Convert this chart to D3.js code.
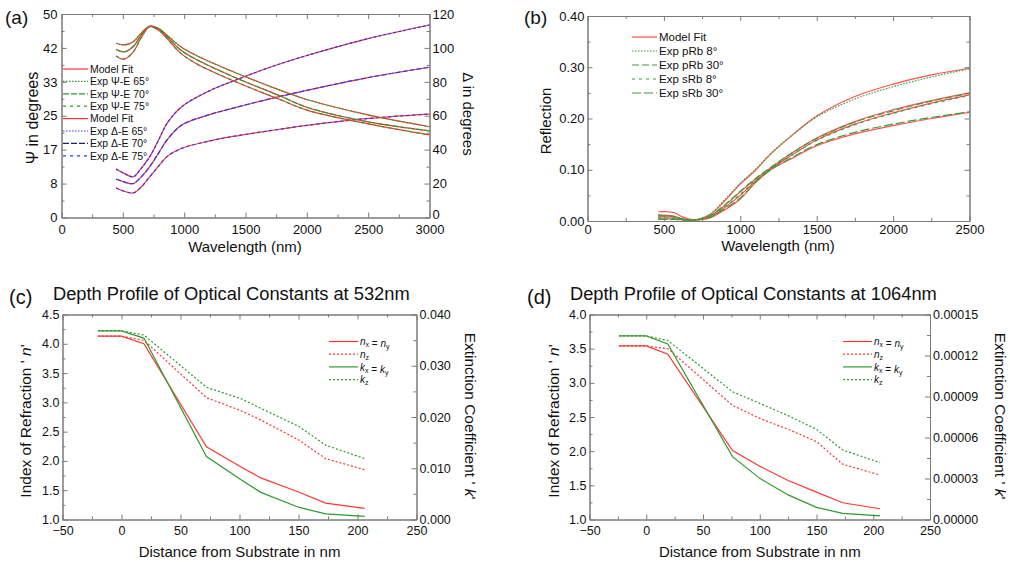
<!DOCTYPE html>
<html><head><meta charset="utf-8">
<title>Optical constants</title>
<script src="https://d3js.org/d3.v7.min.js"></script>
<style>
  body { margin: 0; background: #fff; }
  svg text { font-family: "Liberation Sans", Arial, sans-serif; fill: #111; }
</style>
</head>
<body>
<svg id="chart" width="1010" height="562"></svg>
<script>

// ---------- (a) ellipsometry Psi / Delta ----------
let wlPsi = [445, 510, 585, 650, 720, 800, 860, 966, 1100, 1400, 1780, 2000, 2500, 3000];
let psi65 = [42.8, 42.4, 43.2, 45.3, 47.0, 46.3, 44.8, 42.1, 39.8, 35.8, 31.3, 29.0, 25.2, 22.3];
let psi70 = [41.3, 40.7, 42.0, 44.8, 47.0, 46.1, 44.4, 41.3, 38.8, 34.6, 29.9, 27.1, 23.5, 21.3];
let psi75 = [39.7, 38.9, 40.7, 44.2, 46.9, 45.8, 44.0, 40.5, 37.8, 33.6, 29.0, 26.4, 23.0, 20.3];

let wlDel = [445, 510, 585, 650, 720, 800, 860, 980, 1200, 1400, 1700, 2000, 2500, 3000];
let del65 = [28.6, 26.0, 24.0, 29.0, 35.9, 47.0, 55.5, 65.3, 74.5, 80.5, 88.6, 95.5, 105.5, 113.5];
let del70 = [22.7, 21.0, 20.0, 24.0, 30.0, 39.0, 45.7, 54.5, 60.5, 64.5, 70.0, 75.0, 82.5, 88.6];
let del75 = [17.4, 15.5, 14.5, 18.0, 24.1, 31.0, 35.9, 40.8, 45.0, 47.8, 51.2, 54.3, 58.4, 61.0];

let psiTicks = [0, 50/6, 100/6, 25, 200/6, 250/6, 50];
let psiTickLabels = ["0", "8", "17", "25", "33", "42", "50"];

// ---------- (b) reflection ----------
let wlR = [463, 520, 570, 620, 700, 800, 900, 1000, 1100, 1200, 1350, 1500, 1750, 2000, 2250, 2500];
let fitR1 = [0.012, 0.011, 0.009, 0.004, 0.002, 0.012, 0.040, 0.072, 0.099, 0.131, 0.170, 0.205, 0.243, 0.267, 0.285, 0.298];
let fitR2 = [0.018, 0.018, 0.016, 0.008, 0.002, 0.009, 0.031, 0.057, 0.082, 0.104, 0.135, 0.162, 0.194, 0.217, 0.235, 0.250];
let fitR3 = [0.008, 0.008, 0.007, 0.003, 0.002, 0.007, 0.027, 0.050, 0.078, 0.102, 0.131, 0.158, 0.189, 0.211, 0.230, 0.246];
let fitR4 = [0.004, 0.004, 0.004, 0.002, 0.002, 0.006, 0.022, 0.043, 0.075, 0.100, 0.124, 0.147, 0.170, 0.186, 0.200, 0.212];
let expR1 = [0.011, 0.010, 0.008, 0.003, 0.002, 0.013, 0.042, 0.074, 0.101, 0.132, 0.170, 0.203, 0.238, 0.262, 0.281, 0.297];
let expR2 = [0.010, 0.010, 0.009, 0.004, 0.002, 0.010, 0.032, 0.058, 0.083, 0.105, 0.135, 0.161, 0.193, 0.215, 0.234, 0.249];
let expR3 = [0.006, 0.006, 0.005, 0.003, 0.002, 0.008, 0.028, 0.052, 0.079, 0.102, 0.131, 0.157, 0.188, 0.210, 0.229, 0.245];
let expR4 = [0.003, 0.003, 0.003, 0.002, 0.002, 0.007, 0.024, 0.045, 0.076, 0.100, 0.126, 0.149, 0.173, 0.189, 0.202, 0.213];

// ---------- (c) depth profile at 532nm ----------
let depthC = [-20, 0, 19, 72, 101, 118, 150, 173, 206];
let nxyC = [4.13, 4.13, 4.00, 2.24, 1.90, 1.71, 1.47, 1.28, 1.19];
let nzC  = [4.13, 4.13, 4.06, 3.08, 2.86, 2.70, 2.36, 2.04, 1.85];
let kxyC = [0.0368, 0.0368, 0.0354, 0.0123, 0.0078, 0.0053, 0.0024, 0.0011, 0.0006];
let kzC  = [0.0368, 0.0368, 0.0360, 0.0258, 0.0236, 0.0217, 0.0182, 0.0145, 0.0119];

// ---------- (d) depth profile at 1064nm ----------
let depthD = [-24, 0, 19, 76, 100, 125, 150, 173, 206];
let nxyD = [3.54, 3.54, 3.42, 2.01, 1.78, 1.57, 1.40, 1.245, 1.157];
let nzD  = [3.54, 3.54, 3.50, 2.67, 2.48, 2.32, 2.14, 1.81, 1.65];
let kxyD = [0.0001343, 0.0001343, 0.0001284, 0.0000460, 0.0000301, 0.0000180, 0.0000089, 0.0000045, 0.0000026];
let kzD  = [0.0001343, 0.0001343, 0.0001310, 0.0000935, 0.0000850, 0.0000760, 0.0000660, 0.0000509, 0.0000416];


let svg = d3.select("#chart");
const RED = "#ff3535", GREEN = "#2f9a2f", BLUE = "#3535ee", NAVY = "#1c1c70";

// one axis = minor ticks + major ticks (Origin style, ticks pointing in)
function axis(g, gen, scale, tx, ty, major, minor, fmt, pad, fs) {
  g.append("g").attr("transform", `translate(${tx},${ty})`).attr("color", "#7a7a7a")
    .call(gen(scale).tickValues(minor).tickSize(-3).tickSizeOuter(0).tickFormat(""));
  let a = g.append("g").attr("transform", `translate(${tx},${ty})`).attr("color", "#7a7a7a")
    .call(gen(scale).tickValues(major).tickSize(-5).tickSizeOuter(0).tickPadding(pad || 4).tickFormat(fmt || ""));
  a.selectAll("text").attr("font-size", fs || 13).attr("fill", "#111").attr("font-family", null);
  return a;
}

function frame(p) {
  let g = svg.append("g");
  let x = d3.scaleLinear().domain(p.xDom).range([p.left, p.right]);
  let y = d3.scaleLinear().domain(p.yDom).range([p.bottom, p.top]);
  let y2 = d3.scaleLinear().domain(p.y2Dom || p.yDom).range([p.bottom, p.top]);
  axis(g, d3.axisBottom, x, 0, p.bottom, p.xMajor, p.xMinor, d3.format("d"), p.xPad || 4, p.fs);
  axis(g, d3.axisTop, x, 0, p.top, p.xMajor, p.xMinor, null);
  axis(g, d3.axisLeft, y, p.left, 0, p.yMajor, p.yMinor, p.yFmt, p.yPad, p.fs);
  let r = axis(g, d3.axisRight, y2, p.right, 0, p.y2Major || p.yMajor, p.y2Minor || p.yMinor, p.y2Fmt || null, 3, p.fs);
  return { g: g, x: x, y: y, y2: y2, right: r };
}

function plot(g, xs, ys, sx, sy, color, dash, curve, w) {
  let line = d3.line().x((d, i) => sx(xs[i])).y(d => sy(d)).curve(curve || d3.curveLinear);
  g.append("path").datum(ys).attr("d", line)
    .attr("fill", "none").attr("stroke", color).attr("stroke-width", w || 1.2)
    .attr("stroke-dasharray", dash || null);
}

function legend(g, x0, y0, step, len, fs, items) {
  items.forEach((it, i) => {
    let yy = y0 + i * step;
    g.append("line").attr("x1", x0).attr("x2", x0 + len).attr("y1", yy).attr("y2", yy)
      .attr("stroke", it.color).attr("stroke-width", 1.2).attr("stroke-dasharray", it.dash || null);
    let t = g.append("text").attr("x", x0 + len + 2).attr("y", yy + fs * 0.36).attr("font-size", fs);
    if (typeof it.label === "string") t.text(it.label);
    else it.label(t, fs);
  });
}

function sub(t, fs, base, s) {
  t.append("tspan").attr("font-style", "italic").text(base);
  t.append("tspan").attr("font-size", fs * 0.7).attr("dy", 2).text(s);
  t.append("tspan").attr("dy", -2).text("");
}

function label(txt, x, y, fs, rot, anchor) {
  let t = svg.append("text").attr("font-size", fs).attr("text-anchor", anchor || "middle")
    .attr("transform", `translate(${x},${y}) rotate(${rot || 0})`);
  if (typeof txt === "string") t.text(txt); else txt(t);
  return t;
}

// ===== panel (a) =====
let A = frame({
  left: 61.5, right: 429.5, top: 14, bottom: 217.5, xPad: 7,
  xDom: [0, 3000], xMajor: d3.range(0, 3001, 500), xMinor: d3.range(250, 3000, 500),
  yDom: [0, 50], yMajor: psiTicks, yMinor: psiTicks.slice(1).map(v => v - 25/6),
  yFmt: (d, i) => psiTickLabels[i],
  y2Dom: [0, 120], y2Major: d3.range(0, 121, 20), y2Minor: d3.range(10, 120, 20), y2Fmt: d3.format("d")
});
// lift the right-hand "0" a little so it clears the "3000" below it
A.right.selectAll("text").filter(d => d === 0).attr("y", -3);
let curve = d3.curveCatmullRom.alpha(0.5);
[del65, del70, del75].forEach((d, i) => {
  plot(A.g, wlDel, d, A.x, A.y2, RED, null, curve);
  plot(A.g, wlDel, d, A.x, A.y2, BLUE, ["3,2", "5,2", "3,3"][i], curve);
});
[psi65, psi70, psi75].forEach((d, i) => {
  plot(A.g, wlPsi, d, A.x, A.y, RED, null, curve);
  plot(A.g, wlPsi, d, A.x, A.y, GREEN, ["1.5,1.5", "6,2", "3,4"][i], curve);
});
legend(A.g, 63, 69, 12.4, 25, 10.5, [
  { color: RED, label: "Model Fit" },
  { color: GREEN, dash: "1.5,1.5", label: "Exp \u03A8-E 65\u00B0" },
  { color: GREEN, dash: "6,2", label: "Exp \u03A8-E 70\u00B0" },
  { color: GREEN, dash: "3,4", label: "Exp \u03A8-E 75\u00B0" },
  { color: RED, label: "Model Fit" },
  { color: BLUE, dash: "1.5,1.5", label: "Exp \u0394-E 65\u00B0" },
  { color: NAVY, dash: "6,2", label: "Exp \u0394-E 70\u00B0" },
  { color: BLUE, dash: "3,4", label: "Exp \u0394-E 75\u00B0" }
]);
label("(a)", 5, 24, 19, 0, "start");
label("\u03A8 in degrees", 38, 118, 16, -90);
label("Wavelength (nm)", 245, 252, 15);
label("\u0394 in degrees", 463, 114, 15, 90);

// ===== panel (b) =====
let B = frame({
  left: 587.5, right: 969.5, top: 16, bottom: 221,
  xDom: [0, 2500], xMajor: d3.range(0, 2501, 500), xMinor: d3.range(250, 2500, 500),
  yDom: [0, 0.4], yMajor: [0, 0.1, 0.2, 0.3, 0.4], yMinor: [0.05, 0.15, 0.25, 0.35],
  yFmt: d3.format(".2f"), yPad: 3
});
[fitR1, fitR2, fitR3, fitR4].forEach(d => plot(B.g, wlR, d, B.x, B.y, "#ff5050", null, curve));
[expR1, expR2, expR3, expR4].forEach((d, i) =>
  plot(B.g, wlR, d, B.x, B.y, "#3c9c3c", ["1.5,1.5", "7,3", "3,4", "9,3"][i], curve));
legend(B.g, 632, 37, 14, 25, 11.5, [
  { color: "#ff5050", label: "Model Fit" },
  { color: "#3c9c3c", dash: "1.5,1.5", label: "Exp pRb 8\u00B0" },
  { color: "#3c9c3c", dash: "7,3", label: "Exp pRb 30\u00B0" },
  { color: "#3c9c3c", dash: "3,4", label: "Exp sRb 8\u00B0" },
  { color: "#3c9c3c", dash: "9,3", label: "Exp sRb 30\u00B0" }
]);
label("(b)", 524, 24, 19, 0, "start");
label("Reflection", 551, 121, 15, -90);
label("Wavelength (nm)", 778, 251, 15);

// ===== panels (c) and (d) =====
function depthPanel(p, depth, nxy, nz, kxy, kz, tag, tagX, title, titleX, lx, rx, legX) {
  let P = frame(p);
  plot(P.g, depth, nz, P.x, P.y, RED, "2,2");
  plot(P.g, depth, kz, P.x, P.y2, GREEN, "2,2");
  plot(P.g, depth, nxy, P.x, P.y, RED, null);
  plot(P.g, depth, kxy, P.x, P.y2, GREEN, null);
  legend(P.g, legX, 341.5, 12.7, 29, 10, [
    { color: RED, label: (t, fs) => { sub(t, fs, "n", "x"); t.append("tspan").text(" = "); sub(t, fs, "n", "y"); } },
    { color: RED, dash: "2,2", label: (t, fs) => sub(t, fs, "n", "z") },
    { color: GREEN, label: (t, fs) => { sub(t, fs, "k", "x"); t.append("tspan").text(" = "); sub(t, fs, "k", "y"); } },
    { color: GREEN, dash: "2,2", label: (t, fs) => sub(t, fs, "k", "z") }
  ]);
  let cx = (p.left + p.right) / 2;
  label(tag, tagX, 304, 20, 0, "start");
  label(title, titleX, 300, 18.3, 0, "start");
  label("Distance from Substrate in nm", cx, 557, 15);
  label(t => { t.append("tspan").text("Index of Refraction ' "); t.append("tspan").attr("font-style", "italic").text("n"); t.append("tspan").text("'"); }, lx, 421, 15.5, -90);
  label(t => { t.append("tspan").text("Extinction Coefficient ' "); t.append("tspan").attr("font-style", "italic").text("k"); t.append("tspan").text("'"); }, rx, 416, 15.5, 90);
}

depthPanel({
  left: 62.5, right: 416.5, top: 314.5, bottom: 519.5, fs: 12.5, xPad: 7,
  xDom: [-50, 250], xMajor: d3.range(-50, 251, 50), xMinor: d3.range(-25, 250, 50),
  yDom: [1, 4.5], yMajor: d3.range(1, 4.51, 0.5), yMinor: d3.range(1.25, 4.5, 0.5), yFmt: d3.format(".1f"), yPad: 3,
  y2Dom: [0, 0.04], y2Major: [0, 0.01, 0.02, 0.03, 0.04], y2Minor: [0.005, 0.015, 0.025, 0.035], y2Fmt: d3.format(".3f")
}, depthC, nxyC, nzC, kxyC, kzC, "(c)", 9, "Depth Profile of Optical Constants at 532nm", 53, 31, 465, 329);

depthPanel({
  left: 589.5, right: 930, top: 314.5, bottom: 519.5, fs: 12.5, xPad: 7,
  xDom: [-50, 250], xMajor: d3.range(-50, 251, 50), xMinor: d3.range(-25, 250, 50),
  yDom: [1, 4], yMajor: d3.range(1, 4.01, 0.5), yMinor: d3.range(1.25, 4, 0.5), yFmt: d3.format(".1f"), yPad: 3,
  y2Dom: [0, 0.00015], y2Major: [0, 0.00003, 0.00006, 0.00009, 0.00012, 0.00015],
  y2Minor: [0.000015, 0.000045, 0.000075, 0.000105, 0.000135], y2Fmt: d3.format(".5f")
}, depthD, nxyD, nzD, kxyD, kzD, "(d)", 527, "Depth Profile of Optical Constants at 1064nm", 570, 559, 995, 843);

</script>
</body>
</html>
